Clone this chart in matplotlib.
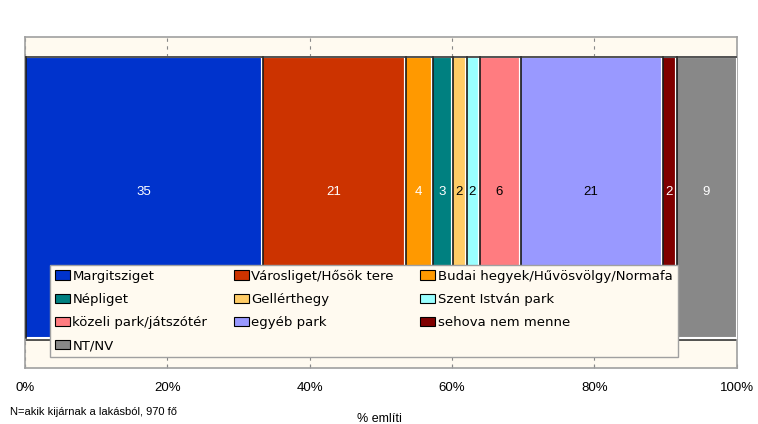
import matplotlib.pyplot as plt
import numpy as np

# Answers (mentions), shown as a 100% stacked bar.
categories = ["Margitsziget", "Városliget/Hősök tere", "Budai hegyek/Hűvösvölgy/Normafa",
              "Népliget", "Gellérthegy", "Szent István park",
              "közeli park/játszótér", "egyéb park", "sehova nem menne", "NT/NV"]
values = [35, 21, 4, 3, 2, 2, 6, 21, 2, 9]
colors = ["#0033CC", "#CC3300", "#FF9900", "#008080", "#FFCC66",
          "#99FFFF", "#FF7C80", "#9999FF", "#800000", "#888888"]
label_colors = ["white", "white", "white", "white", "black",
                "black", "black", "black", "white", "white"]
xticks = [0, 20, 40, 60, 80, 100]

plt.rcParams['font.family'] = ['Liberation Sans', 'DejaVu Sans']

fig = plt.figure(figsize=(7.58, 4.24), dpi=100)
ax = fig.add_axes([0.033, 0.132, 0.939, 0.781])
ax.set_facecolor("#FFFAF0")

shares = np.array(values) / sum(values) * 100
lefts = np.concatenate([[0], np.cumsum(shares)[:-1]])
bar_bottom, bar_h = 0.09, 0.85

for left, w, c in zip(lefts, shares, colors):
    ax.barh(bar_bottom, w, left=left, height=bar_h, align="edge",
            color=c, edgecolor="white", linewidth=1.5, zorder=3)
    # dark line at the left side of each segment
    ax.plot([left + 0.15, left + 0.15], [bar_bottom, bar_bottom + bar_h],
            color="#1a1a1a", linewidth=1.2, zorder=4)

# dark lines above and below the bar
ax.plot([0, 100], [bar_bottom + bar_h, bar_bottom + bar_h], color="#333333", lw=1.2, zorder=4)
ax.plot([0, 100], [bar_bottom - 0.005, bar_bottom - 0.005], color="#333333", lw=1.2, zorder=2)

for left, w, v, tc in zip(lefts, shares, values, label_colors):
    ax.text(left + w / 2, bar_bottom + bar_h * 0.52, str(v), ha="center", va="center",
            color=tc, fontsize=9.5, zorder=5)

ax.set_xlim(0, 100)
ax.set_ylim(0, 1)
ax.set_xticks(xticks)
ax.set_xticklabels([f"{t}%" for t in xticks], fontsize=9.5)
ax.set_yticks([])
ax.tick_params(axis="x", direction="in", length=3, pad=10, color="#888888")
ax.grid(axis="x", color="#888888", linestyle=(0, (3, 4)), linewidth=0.8, zorder=1)
for s in ax.spines.values():
    s.set_color("#A0A0A0")
    s.set_linewidth(1.2)

# legend filled row by row (matplotlib fills column by column)
order = [0, 3, 6, 9, 1, 4, 7, 2, 5, 8]
handles = [plt.Rectangle((0, 0), 1, 1, facecolor=colors[i], edgecolor="black", linewidth=0.8)
           for i in order]
leg = ax.legend(handles, [categories[i] for i in order], ncol=3, loc="lower left",
                bbox_to_anchor=(0.035, 0.033), prop={"family": "DejaVu Sans", "size": 9.5},
                frameon=True, fancybox=False, handlelength=1.15, handleheight=0.7,
                handletextpad=0.2, columnspacing=2.0, labelspacing=0.78,
                borderpad=0.35, borderaxespad=0)
leg.get_frame().set_facecolor("#FFFAF0")
leg.get_frame().set_edgecolor("#A0A0A0")
leg.get_frame().set_alpha(1)
leg.set_zorder(6)

fig.text(0.013, 0.022, "N=akik kijárnak a lakásból, 970 fő", fontsize=8)
fig.text(0.5, 0.005, "% említi", fontsize=9, ha="center")

fig.savefig("out.png", dpi=100)
